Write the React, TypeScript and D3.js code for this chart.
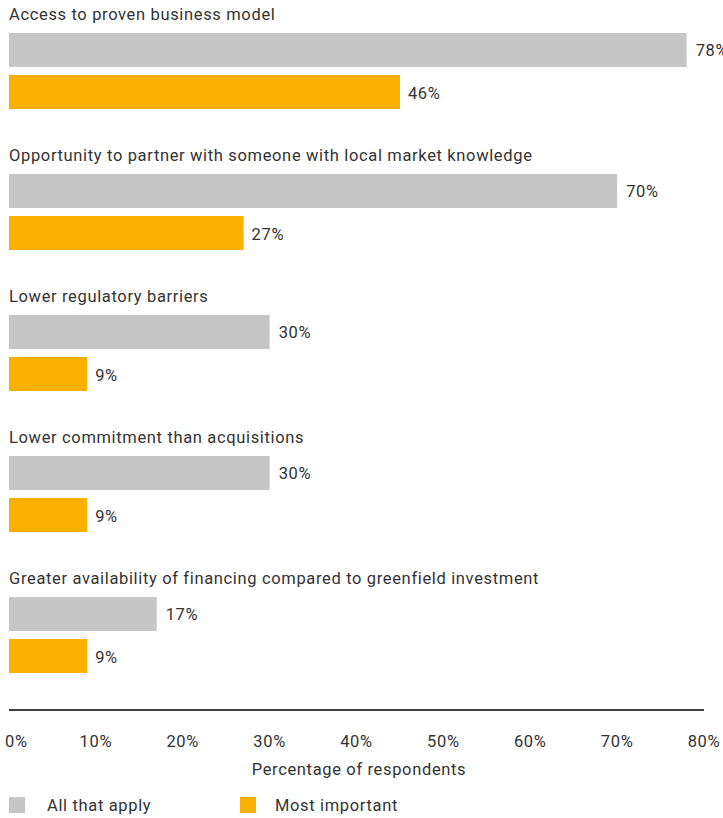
import React from "react";
import * as d3 from "d3";

const categories = [
  "Access to proven business model",
  "Opportunity to partner with someone with local market knowledge",
  "Lower regulatory barriers",
  "Lower commitment than acquisitions",
  "Greater availability of financing compared to greenfield investment",
];
const allThatApply = [78, 70, 30, 30, 17];
const mostImportant = [45, 27, 9, 9, 9];
const allLabels = ["78%", "70%", "30%", "30%", "17%"];
const mostLabels = ["46%", "27%", "9%", "9%", "9%"];
const ticks = [0, 10, 20, 30, 40, 50, 60, 70, 80];
const seriesNames = ["All that apply", "Most important"];
const colors = ["#c6c6c6", "#f9b000"];

export default function App() {
  const W = 723;
  const H = 818;
  const x = d3.scaleLinear().domain([0, 80]).range([9, 704]);
  const y = d3.scaleBand<number>().domain(d3.range(categories.length)).range([0, 705]);
  const font = "Roboto, 'DejaVu Sans', sans-serif";
  const textColor = "#333";
  const fs = 16.5;
  const ls = 0.65;
  return (
    <svg width={W} height={H} style={{ position: "absolute", left: 0, top: 0 }} fontFamily={font} letterSpacing={ls}>
      {categories.map((c, i) => {
        const y0 = y(i)!;
        return (
          <g key={c}>
            <text x={9} y={y0 + 20} fontSize={fs} fill={textColor}>{c}</text>
            <rect x={x(0)} y={y0 + 33} width={x(allThatApply[i]) - x(0)} height={34} fill={colors[0]} />
            <text x={x(allThatApply[i]) + 9} y={y0 + 50} dy="0.35em" fontSize={fs} fill={textColor}>{allLabels[i]}</text>
            <rect x={x(0)} y={y0 + 75} width={x(mostImportant[i]) - x(0)} height={34} fill={colors[1]} />
            <text x={x(mostImportant[i]) + 8} y={y0 + 93} dy="0.35em" fontSize={fs} fill={textColor}>{mostLabels[i]}</text>
          </g>
        );
      })}
      <line x1={x(0)} x2={x(80)} y1={710} y2={710} stroke="#000" strokeWidth={1.5} />
      {ticks.map((t, i) => (
        <text key={t} x={i === 0 ? 5 : x(t)} y={747} textAnchor={i === 0 ? "start" : "middle"} fontSize={fs} fill={textColor}>{t}%</text>
      ))}
      <text x={359} y={775} textAnchor="middle" fontSize={fs} fill={textColor}>Percentage of respondents</text>
      {seriesNames.map((s, i) => (
        <g key={s} transform={`translate(${i === 0 ? 9 : 240},797)`}>
          <rect width={16} height={16} fill={colors[i]} />
          <text x={i === 0 ? 38 : 35} y={14} fontSize={fs} fill={textColor}>{s}</text>
        </g>
      ))}
    </svg>
  );
}
